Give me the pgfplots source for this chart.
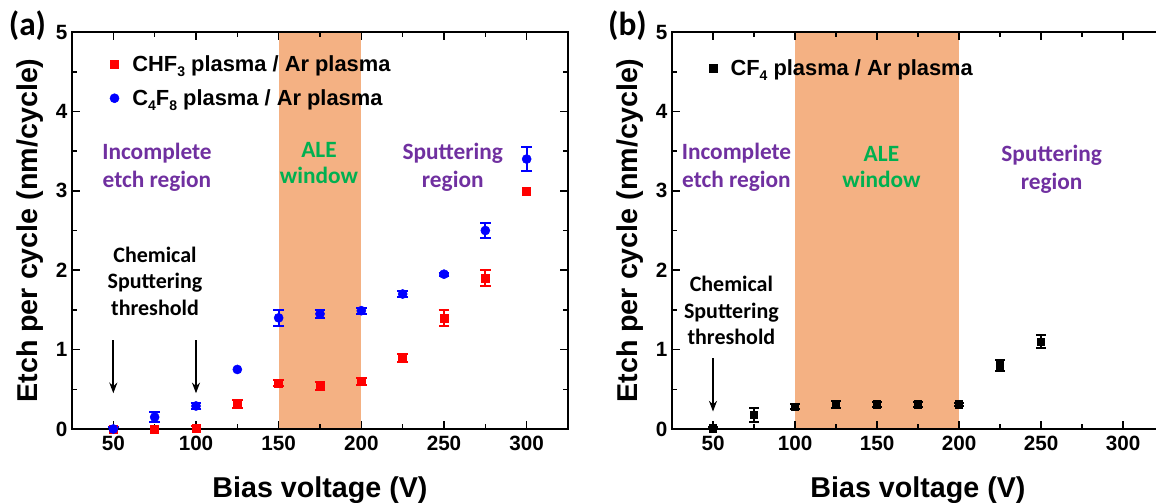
\documentclass[border=0pt]{standalone}
\usepackage{fontspec}
\setmainfont{Liberation Sans}
\newfontfamily\calfont{Carlito}
\usepackage{pgfplots}
\pgfplotsset{compat=1.18}
\usetikzlibrary{arrows.meta}

\definecolor{aleorange}{HTML}{F4B183}
\definecolor{regpurple}{HTML}{7030A0}
\definecolor{alegreen}{HTML}{00B050}

\newcommand\sub[1]{\raisebox{-0.45ex}{\fontsize{10.5}{12}\selectfont #1}}

\tikzset{
  annot/.style={align=center, font=\calfont\bfseries\fontsize{17.5}{21}\selectfont},
  thr/.style={-{Stealth[length=8pt,width=6pt]}, line width=1.3pt},
}

% shared look of both panels (1 px of the reference = 0.75pt)
\pgfplotsset{
  etchaxis/.style={
    scale only axis,
    height=297.75pt,
    xmin=25, xmax=325, ymin=0, ymax=5,
    xtick={50,100,...,300}, minor xtick={75,125,...,275},
    ytick={0,1,...,5}, minor ytick={0.5,1.5,...,4.5},
    tick align=inside,
    major tick length=6pt, minor tick length=3.5pt,
    axis on top,
    axis line style={line width=1.5pt},
    every tick/.style={line width=1.2pt, black},
    /pgf/number format/assume math mode=true,
    tick label style={font=\fontsize{15.5}{18}\selectfont\bfseries},
    xticklabel style={yshift=-2pt},
    xlabel={Bias voltage (V)},
    ylabel={Etch per cycle (nm/cycle)},
    label style={font=\fontsize{21.5}{24}\selectfont\bfseries},
    xlabel style={at={(axis description cs:0.5,-0.154)}, anchor=center},
    ylabel style={at={(axis description cs:-0.085,0.5)}, anchor=center},
    legend style={draw=none, fill=none, anchor=north west,
      font=\fontsize{16.4}{19}\selectfont\bfseries,
      row sep=8pt, column sep=8pt},
    legend cell align=left,
    error bars/y dir=both, error bars/y explicit,
  },
}

% points with a visible error bar
\pgfplotstableread{
x   y     e
100 0.01  0.03
125 0.31  0.05
150 0.58  0.04
175 0.54  0.05
200 0.60  0.04
225 0.89  0.05
250 1.40  0.10
275 1.90  0.10
}\chfthree
% points without one
\pgfplotstableread{
x   y
50  0.00
75  0.00
300 3.00
}\chfthreenoerr

\pgfplotstableread{
x   y     e
50  0.00  0.02
75  0.15  0.06
100 0.29  0.04
150 1.40  0.10
175 1.45  0.05
200 1.49  0.04
225 1.70  0.04
250 1.95  0.02
275 2.50  0.10
300 3.40  0.15
}\cfoureight
\pgfplotstableread{
x   y
125 0.75
}\cfoureightnoerr

\pgfplotstableread{
x   y     e
50  0.01  0.02
75  0.18  0.09
100 0.28  0.03
125 0.31  0.04
150 0.31  0.03
175 0.31  0.03
200 0.31  0.02
225 0.80  0.075
250 1.10  0.08
}\cffour

\begin{document}
\begin{tikzpicture}
\useasboundingbox (0,0) rectangle (867pt,-377.25pt);
\clip (0,0) rectangle (867pt,-377.25pt);

% ---- (a) ----
\begin{axis}[etchaxis, width=372pt, at={(54pt,-321.75pt)}, anchor=south west,
  legend style={at={(axis description cs:0.068,0.955)}}]
\fill[aleorange] (axis cs:150,0) rectangle (axis cs:200,5);
\addplot[only marks, mark=square*, mark size=3pt, red,
  error bars/error bar style={line width=1.5pt, red},
  error bars/error mark options={rotate=90, mark size=4pt, line width=1.5pt, red}]
  table[x=x, y=y, y error=e] {\chfthree};
\addlegendentry{CHF\sub{3} plasma / Ar plasma}
\addplot[only marks, mark=square*, mark size=3pt, red, forget plot]
  table[x=x, y=y] {\chfthreenoerr};
\addplot[only marks, mark=*, mark size=3.4pt, blue,
  error bars/error bar style={line width=1.5pt, blue},
  error bars/error mark options={rotate=90, mark size=4pt, line width=1.5pt, blue}]
  table[x=x, y=y, y error=e] {\cfoureight};
\addlegendentry{C\sub{4}F\sub{8} plasma / Ar plasma}
\addplot[only marks, mark=*, mark size=3.4pt, blue, forget plot]
  table[x=x, y=y] {\cfoureightnoerr};
\node[annot, text=regpurple] at (axis cs:76.4,3.30) {Incomplete\\etch region};
\node[annot, text=alegreen, font=\calfont\bfseries\fontsize{17.5}{19.5}\selectfont] at (axis cs:174.4,3.35) {ALE\\window};
\node[annot, text=regpurple] at (axis cs:255.3,3.30) {Sputtering\\region};
\node[annot, font=\calfont\bfseries\fontsize{16.5}{19.8}\selectfont] at (axis cs:75.2,1.86) {Chemical\\Sputtering\\threshold};
\draw[thr] (axis cs:50,1.12) -- (axis cs:50,0.45);
\draw[thr] (axis cs:100,1.12) -- (axis cs:100,0.45);
\end{axis}

% ---- (b) ----
\begin{axis}[etchaxis, width=369pt, at={(504pt,-321.75pt)}, anchor=south west,
  legend style={at={(axis description cs:0.068,0.945)}}]
\fill[aleorange] (axis cs:100,0) rectangle (axis cs:200,5);
\addplot[only marks, mark=square*, mark size=2.8pt, black,
  error bars/error bar style={line width=1.5pt, black},
  error bars/error mark options={rotate=90, mark size=3.5pt, line width=1.5pt, black}]
  table[x=x, y=y, y error=e] {\cffour};
\addlegendentry{CF\sub{4} plasma / Ar plasma}
\node[annot, text=regpurple] at (axis cs:64.3,3.29) {Incomplete\\etch region};
\node[annot, text=alegreen, font=\calfont\bfseries\fontsize{17.5}{19.5}\selectfont] at (axis cs:152.7,3.30) {ALE\\window};
\node[annot, text=regpurple] at (axis cs:256.5,3.27) {Sputtering\\region};
\node[annot, font=\calfont\bfseries\fontsize{16.5}{19.8}\selectfont] at (axis cs:61.2,1.49) {Chemical\\Sputtering\\threshold};
\draw[thr] (axis cs:50,0.89) -- (axis cs:50,0.22);
\end{axis}

\node[font=\calfont\bfseries\fontsize{25}{28}\selectfont] at (20.6pt,-19.5pt) {(a)};
\node[font=\calfont\bfseries\fontsize{25}{28}\selectfont] at (470.6pt,-19.5pt) {(b)};
\end{tikzpicture}
\end{document}
